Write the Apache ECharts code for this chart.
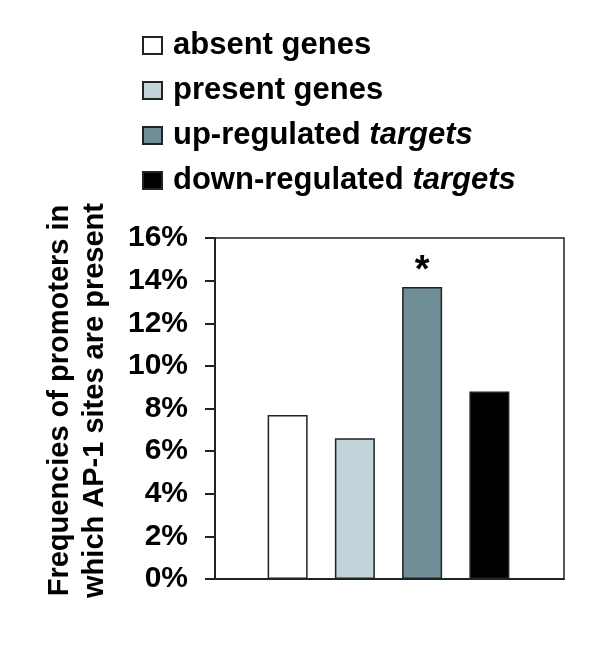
<!DOCTYPE html>
<html>
<head>
<meta charset="utf-8">
<script src="https://cdn.jsdelivr.net/npm/echarts@6/dist/echarts.min.js"></script>
<style>
  html, body { margin: 0; padding: 0; background: #fff; }
  #main { width: 600px; height: 657px; }
</style>
</head>
<body>
<div id="main"></div>
<script>
// data
const categories = ['absent genes', 'present genes', 'up-regulated targets', 'down-regulated targets']
const values = [7.7, 6.6, 13.7, 8.8]
const barColors = ['#ffffff', '#c2d3da', '#718f98', '#000000']
const marks = ['', '', '*', '']
const yTicks = { min: 0, max: 16, interval: 2 }

const font = '"Liberation Sans", Arial, sans-serif'
const chart = echarts.init(document.getElementById('main'))

// one series per category so the legend lists each of them
const series = categories.map((name, i) => ({
  name: name,
  type: 'bar',
  xAxisIndex: 1,
  yAxisIndex: 1,
  barWidth: 40,
  barGap: '-100%',
  data: categories.map((c, j) => (j === i ? values[i] : '-')),
  itemStyle: { color: barColors[i], borderColor: '#222', borderWidth: 1.5 },
  label: {
    show: marks[i] !== '',
    position: 'top',
    distance: -3,
    formatter: () => marks[i],
    fontFamily: font,
    fontWeight: 'bold',
    fontSize: 38,
    color: '#000'
  }
}))

const legendName = (name) => name.replace('targets', '{i|targets}')

chart.setOption({
  animation: false,
  legend: {
    orient: 'vertical',
    left: 142,
    top: 30,
    padding: 0,
    itemWidth: 19,
    itemHeight: 17,
    itemGap: 14,
    icon: 'rect',
    data: categories,
    formatter: legendName,
    textStyle: {
      fontFamily: font,
      fontWeight: 'bold',
      fontSize: 31,
      lineHeight: 30,
      color: '#000',
      padding: [0, 0, 0, 6],
      rich: {
        i: { fontFamily: font, fontWeight: 'bold', fontStyle: 'italic', fontSize: 31, color: '#000' }
      }
    }
  },
  grid: [
    // frame with the value axis
    { left: 215, top: 238, width: 349, height: 341, show: true, borderColor: '#222', borderWidth: 1.5, backgroundColor: 'transparent' },
    // grid holding the bars
    { left: 254, top: 238, width: 269, height: 341 }
  ],
  xAxis: [
    { gridIndex: 0, type: 'category', data: [''], axisLine: { lineStyle: { color: '#222', width: 2 } }, axisTick: { show: false }, axisLabel: { show: false } },
    { gridIndex: 1, type: 'category', data: categories, show: false }
  ],
  yAxis: [
    {
      gridIndex: 0,
      type: 'value',
      min: yTicks.min,
      max: yTicks.max,
      interval: yTicks.interval,
      splitLine: { show: false },
      axisLine: { show: true, lineStyle: { color: '#222', width: 2 } },
      axisTick: { show: true, length: 10, lineStyle: { color: '#222', width: 2 } },
      axisLabel: { formatter: '{value}%', margin: 27, fontFamily: font, fontWeight: 'bold', fontSize: 30, color: '#000' },
      name: 'Frequencies of promoters in\nwhich AP-1 sites are present',
      nameLocation: 'middle',
      nameRotate: 90,
      nameGap: 103,
      nameTextStyle: { fontFamily: font, fontWeight: 'bold', fontSize: 29, lineHeight: 35, color: '#000', padding: [0, 0, 0, 16] }
    },
    { gridIndex: 1, type: 'value', min: yTicks.min, max: yTicks.max, show: false }
  ],
  series: series
})
</script>
</body>
</html>
